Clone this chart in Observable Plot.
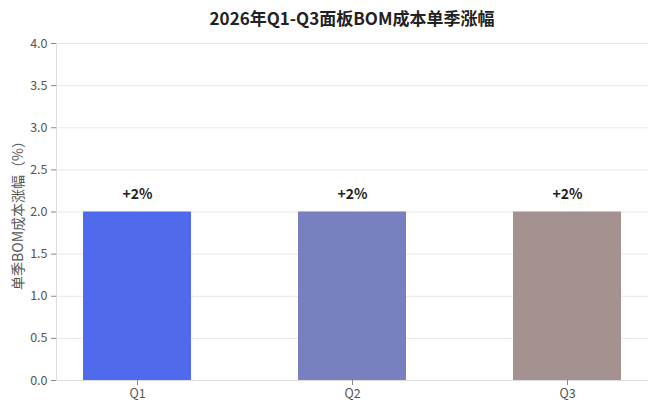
<!DOCTYPE html>
<html>
<head>
<meta charset="utf-8">
<script src="https://cdn.jsdelivr.net/npm/d3@7"></script>
<script src="https://cdn.jsdelivr.net/npm/@observablehq/plot@0.6"></script>
<style>
  body { margin: 0; background: #fff; font-family: "Noto Sans CJK SC", "Noto Sans", sans-serif; }
  #wrap { width: 660px; height: 413px; overflow: hidden; }
  #title { height: 27px; padding-top: 3px; line-height: 30px; padding-left: 44px; text-align: center;
           font-size: 17px; font-weight: bold; color: #222; }
</style>
</head>
<body>
<div id="wrap">
  <div id="title">2026年Q1-Q3面板BOM成本单季涨幅</div>
  <div id="chart"></div>
</div>
<script>
const categories = ["Q1", "Q2", "Q3"];
const values = [2, 2, 2];
const labels = ["+2%", "+2%", "+2%"];
const yTicks = [0, 0.5, 1.0, 1.5, 2.0, 2.5, 3.0, 3.5, 4.0];

const palette = ["#4f6bec", "#7980bf", "#a59290"];
const data = categories.map((c, i) => ({ q: c, v: values[i], label: labels[i] }));

const chart = Plot.plot({
  width: 660,
  height: 383,
  marginTop: 13,
  marginBottom: 33,
  marginLeft: 56,
  marginRight: 12,
  style: { fontFamily: '"Noto Sans CJK SC", "Noto Sans", sans-serif', fontSize: "12px", color: "#555", background: "#fff" },
  x: { domain: categories, paddingInner: 0.5, paddingOuter: 0.125, label: null },
  y: { domain: [0, 4], ticks: yTicks, label: null },
  color: { domain: categories, range: palette },
  marks: [
    Plot.gridY(yTicks, { stroke: "#e8e8e8", strokeOpacity: 1 }),
    Plot.barY(data, { x: "q", y: "v", fill: "q" }),
    Plot.frame({ anchor: "left", stroke: "#ddd" }),
    Plot.ruleY([0], { stroke: "#ddd" }),
    Plot.axisY(yTicks, { tickFormat: d3.format(".1f"), tickSize: 5, stroke: "#888", fill: "#555", fontSize: 12.5 }),
    Plot.axisX({ tickSize: 5, stroke: "#888", fill: "#555", fontSize: 12.5, tickPadding: 4 }),
    Plot.text(data, { x: "q", y: "v", text: "label", dy: -17, fontSize: 14, fontWeight: "bold", fill: "#222" }),
    Plot.text(["单季BOM成本涨幅（%）"], { frameAnchor: "left", textAnchor: "middle", dx: -38, rotate: -90, fontSize: 14, fill: "#555" })
  ]
});
document.getElementById("chart").appendChild(chart);
</script>
</body>
</html>
